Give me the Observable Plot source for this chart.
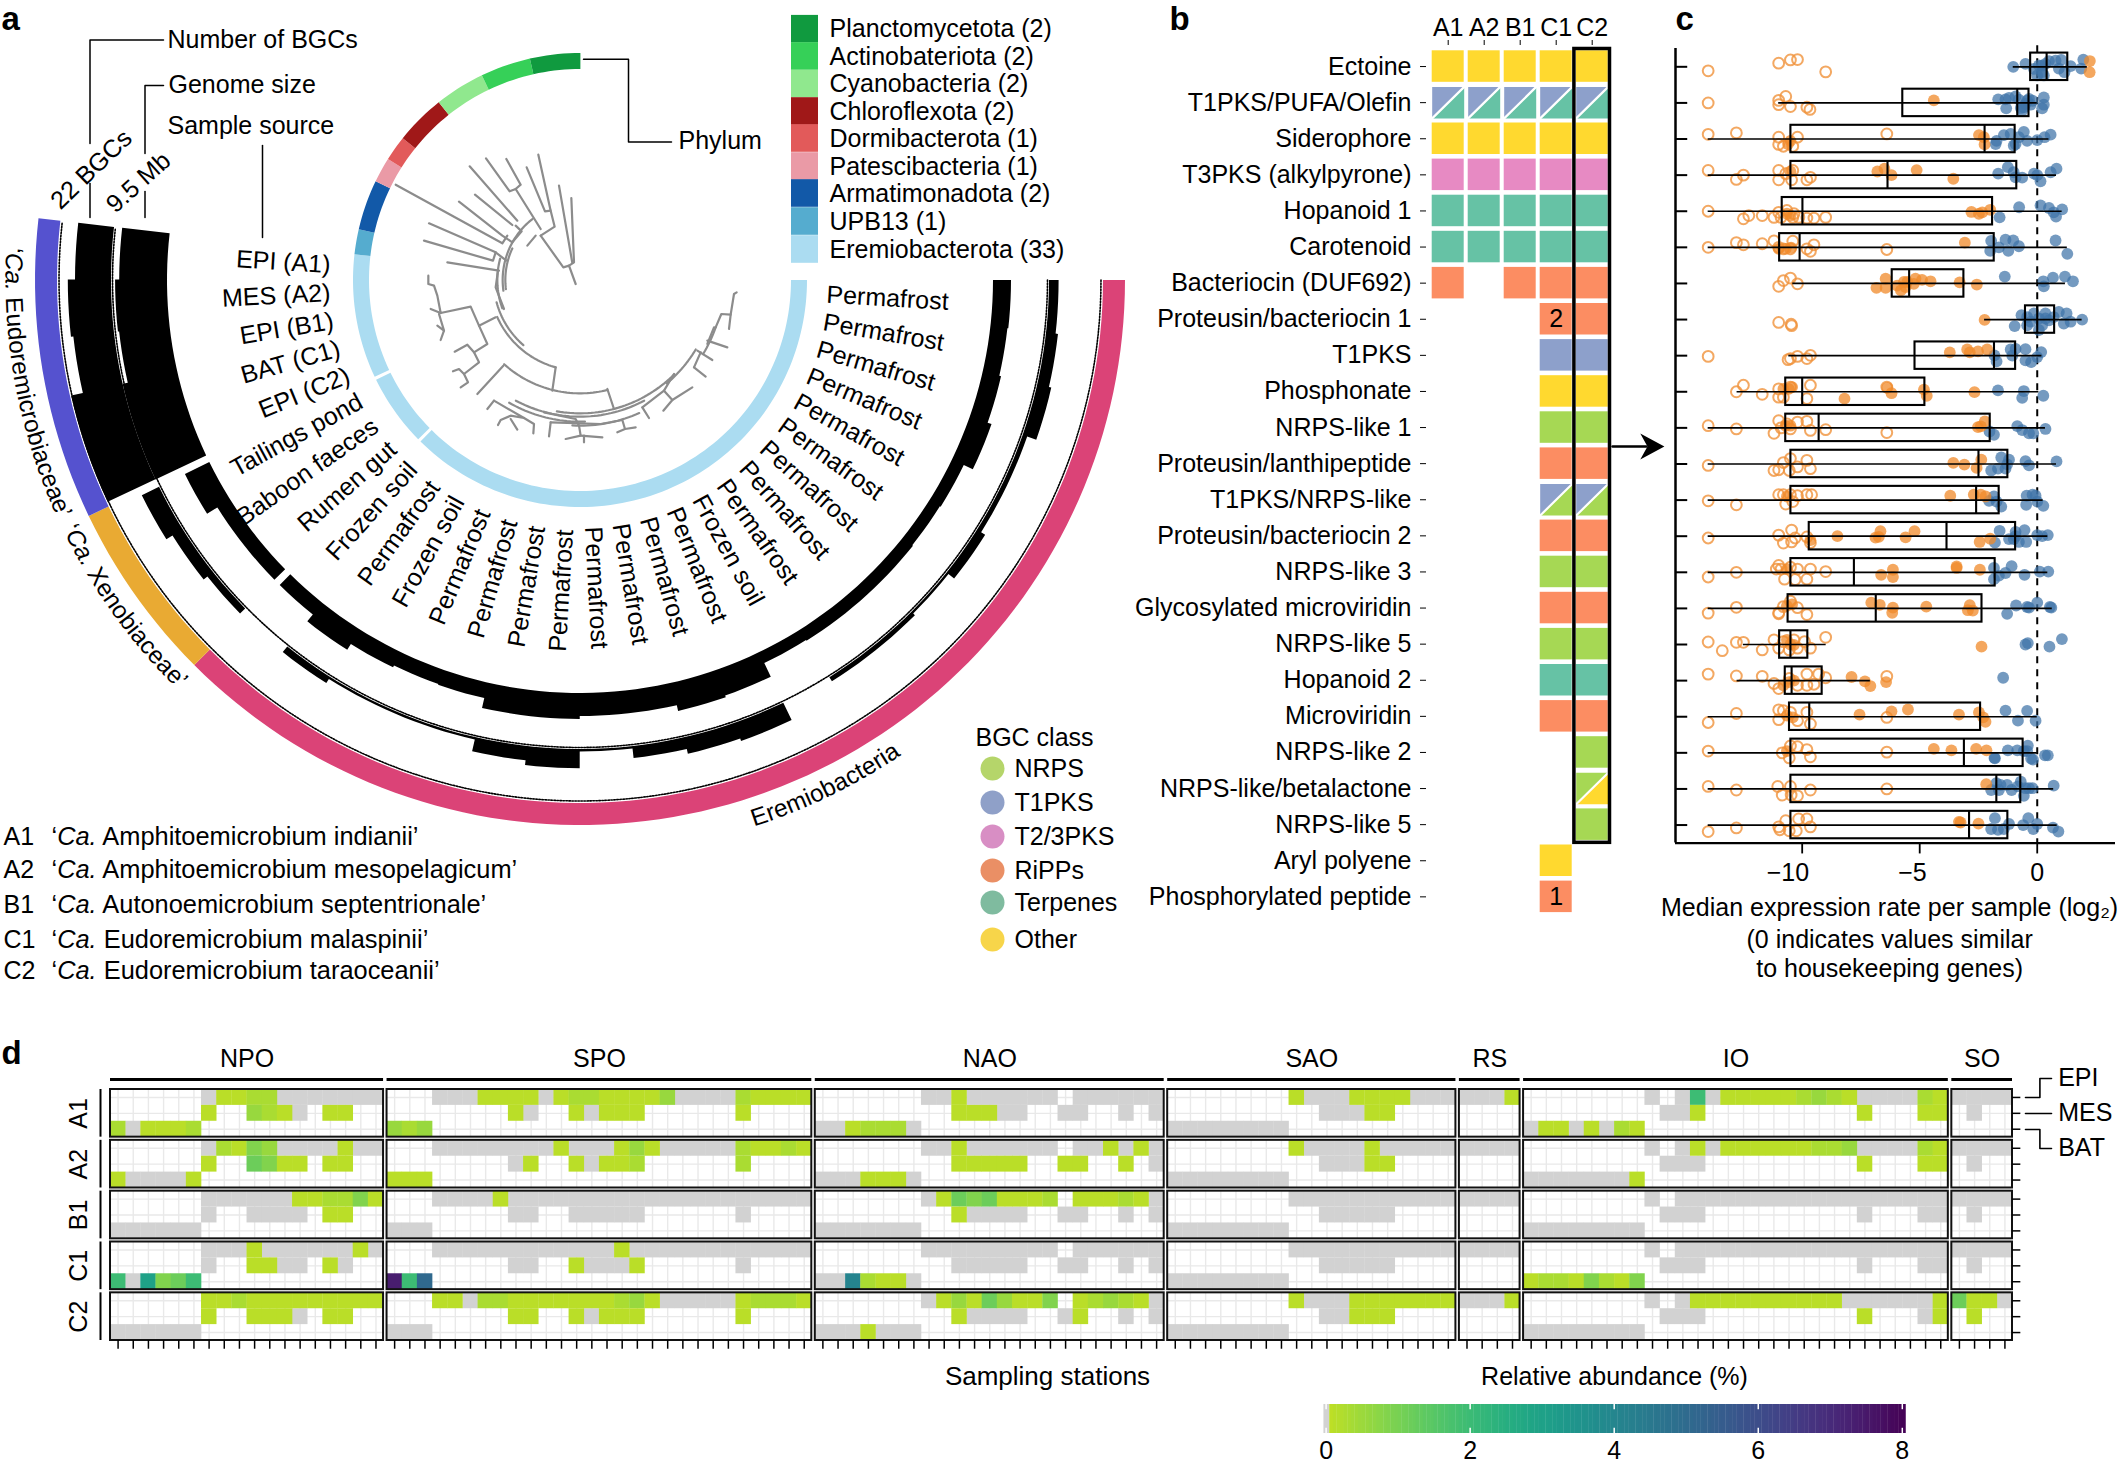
<!DOCTYPE html>
<html><head><meta charset="utf-8">
<script src="https://cdn.jsdelivr.net/npm/d3@7"></script>
<script src="https://cdn.jsdelivr.net/npm/@observablehq/plot@0.6"></script>
<style>html,body{margin:0;background:#fff}#page{position:relative;width:2118px;height:1465px;overflow:hidden}
#page svg{position:absolute;max-width:none;overflow:visible}</style></head><body><div id="page"></div>
<script>
const FONT='"Liberation Sans",Arial,sans-serif';
// ---------- panel a data ----------
const sampleSources=["Permafrost","Permafrost","Permafrost","Permafrost","Permafrost","Permafrost","Permafrost","Permafrost","Permafrost","Frozen soil","Permafrost","Permafrost","Permafrost","Permafrost","Permafrost","Permafrost","Permafrost","Permafrost","Frozen soil","Permafrost","Frozen soil","Rumen gut","Baboon faeces","Tailings pond","EPI (C2)","BAT (C1)","EPI (B1)","MES (A2)","EPI (A1)"];
const genomeSizeMb=[3.05,2.9,3.2,3.9,2.2,2.05,2.2,2.2,2.2,2.05,4.6,4.9,3.9,3.9,4.4,4.4,2.7,2.55,2.9,4.05,2.55,2.55,2.55,4.6,9.5,9.5,8.6,8.8,8.1];
const bgcCounts=[4,5,6,2,2,4,1,2,2,0,8,7,5,1,8,6,1,1,1,3,0,3,5,8,22,22,17,18,15];
const phylumNames=["Planctomycetota (2)","Actinobateriota (2)","Cyanobacteria (2)","Chloroflexota (2)","Dormibacterota (1)","Patescibacteria (1)","Armatimonadota (2)","UPB13 (1)","Eremiobacterota (33)"];
const phylumColors=["#109a3f","#36d058","#90e88e","#a01818","#e25a5a","#ea9aa6","#1259a8","#55accf","#abdcf1"];
const phylumLeaves=[2,2,2,2,1,1,2,1];
const eremioGroups=[21,3,5];
const familyLeaves=[21,3,5];
const familyColors=["#db4377","#e9aa33","#5552cf"];
const bgcClassNames=["NRPS","T1PKS","T2/3PKS","RiPPs","Terpenes","Other"];
const bgcClassColors=["#b5d56a","#8fa0c8","#d88ec4","#ea8f65","#7fbb9f","#f7d54a"];
const speciesIds=["A1","A2","B1","C1","C2"];
const speciesNames=["‘Ca. Amphitoemicrobium indianii’","‘Ca. Amphitoemicrobium mesopelagicum’","‘Ca. Autonoemicrobium septentrionale’","‘Ca. Eudoremicrobium malaspinii’","‘Ca. Eudoremicrobium taraoceanii’"];
// tree: arcs [radius, angle from, angle to], branches as polylines in tree units
const treeArcs=[[232,172,232],[224,173,205],[248,160,195],[272,105.6,156],[259,131,165],[340,76,132],[400,45,100],[405,31,50],[431,19,31],[410,62,118],[425,88,120],[437,66,93]];
const treeBranches=[
[[645,670],[625,615],[608,620],[540,525]],[[625,615],[640,605],[632,412]],[[635,607],[595,375]],
[[540,525],[582,498],[570,450],[533,282]],[[570,450],[553,452],[498,320]],[[540,505],[465,385],[480,372],[437,295]],
[[465,385],[447,392],[376,293]],[[500,555],[525,525]],[[470,480],[327,317]],[[455,493],[343,402]],
[[465,495],[483,512],[455,545],[425,525],[295,423]],[[440,525],[425,548],[105,372]],[[437,600],[405,575],[205,488]],
[[405,575],[397,600],[190,540]],[[415,630],[260,605]],[[412,630],[405,680],[430,745]],
[[405,770],[355,795],[330,738],[240,757],[230,705],[220,675],[203,670],[203,645]],[[240,757],[210,745]],
[[235,760],[250,810],[230,795]],[[250,810],[240,838]],[[355,795],[380,850],[340,875],[320,852],[282,873]],
[[340,875],[355,905],[310,940],[295,925],[277,932]],[[310,940],[322,965],[300,980]],
[[585,920],[575,990]],[[428,915],[350,1000]],[[740,985],[760,1045]],
[[400,1020],[380,1045]],[[400,1020],[490,1072],[450,1065],[420,1078],[412,1093]],[[450,1075],[470,1107]],[[490,1072],[520,1090],[518,1118]],
[[550,1055],[645,1075],[655,1095]],[[570,1085],[565,1127]],[[570,1085],[720,1090]],[[655,1095],[660,1125],[615,1135]],[[660,1125],[725,1130]],[[670,1125],[670,1145]],
[[720,1090],[785,1078],[793,1105],[770,1115]],[[793,1105],[825,1100]],
[[845,1040],[865,1072]],[[845,1040],[910,990],[935,1018],[908,1050]],[[935,1018],[995,980]],[[910,990],[940,940]],
[[1010,870],[1055,898]],[[1000,920],[1035,948]],[[1000,920],[1020,875]],[[1040,840],[1100,860]],[[1060,800],[1040,850]],
[[1065,800],[1082,760],[1110,762],[1105,805]],[[1110,762],[1120,700],[1128,695]]];
// ---------- panel b data ----------
const bgcNames=["Ectoine","T1PKS/PUFA/Olefin","Siderophore","T3PKS (alkylpyrone)","Hopanoid 1","Carotenoid","Bacteriocin (DUF692)","Proteusin/bacteriocin 1","T1PKS","Phosphonate","NRPS-like 1","Proteusin/lanthipeptide","T1PKS/NRPS-like","Proteusin/bacteriocin 2","NRPS-like 3","Glycosylated microviridin","NRPS-like 5","Hopanoid 2","Microviridin","NRPS-like 2","NRPS-like/betalactone","NRPS-like 5","Aryl polyene","Phosphorylated peptide"];
const genomeCols=["A1","A2","B1","C1","C2"];
const bgcClassOfRow=["O","T/E","O","P","E","E","R","R","T","O","N","R","T/N","R","N","R","N","E","R","N","N/O","N","O","R"];
const bgcPresence=["11111","11111","11111","11111","11111","11111","10111","00011","00011","00011","00011","00011","00011","00011","00011","00011","00011","00011","00011","00001","00001","00001","00010","00010"];
const classFill={O:"#FFD92F",T:"#8DA0CB",E:"#66C2A5",P:"#E78AC3",R:"#FC8D62",N:"#A6D854"};
const bgcCellCounts=[[7,3,"2"],[23,3,"1"]];
// ---------- panel c data: [whisker low, q1, median, q3, whisker high] ----------
const boxStats=[[-1.02,-.28,.4,1.3,2.13],[-11,-5.72,-.85,-.35,0],[-14,-10.48,-2.24,-.94,.5],[-14,-10.48,-6.37,-.87,.82],[-14,-10.85,-9.99,-1.9,1.06],[-14,-10.96,-10.11,-1.83,1.28],[-10.4,-6.17,-5.45,-3.12,1.2],[-2.24,-.5,0,.74,1.91],[-10.57,-5.2,-1.84,-.92,.2],[-12.77,-10.7,-10,-4.78,.07],[-14,-10.7,-9.3,-2,.35],[-14,-10.48,-2.5,-1.25,.82],[-14,-10.48,-2.6,-1.62,.25],[-14,-9.7,-3.86,-.92,.45],[-14,-10.48,-7.8,-1.79,.45],[-14,-10.6,-6.87,-2.35,.64],[-12.5,-10.96,-10.5,-9.76,-8.98],[-12.77,-10.72,-10.45,-9.15,-7.1],[-14,-10.54,-9.7,-2.41,0],[-14,-10.48,-3.12,-.6,0],[-14,-10.48,-1.74,-.7,.7],[-14,-10.48,-2.9,-1.25,.85]];
// [value, jitter in rows], one list per row
const openDots=[
[[-14,.11],[-11,-.1],[-10.5,-.19],[-10.2,-.2],[-9,.14]],
[[-14,0],[-11,-.07],[-11,.05],[-10.7,-.18],[-10.5,.1],[-9.8,.12],[-9.67,.18]],
[[-14,-.13],[-12.8,-.17],[-11,-.05],[-11,.15],[-10.8,.2],[-10.2,-.05],[-10.4,.2],[-6.4,-.14]],
[[-14,-.13],[-12.8,.12],[-12.5,0],[-11,-.13],[-11,.13],[-10.7,-.04],[-10.4,-.13],[-10.45,.13],[-9.8,.13],[-9.65,.06]],
[[-14,0],[-12.5,.21],[-12.27,.12],[-11.7,.12],[-11.2,.17],[-11,.03],[-10.65,-.02],[-10.4,.17],[-10.14,.17],[-9.8,.19],[-9.5,.19],[-9,.17],[-10.9,.17],[-10.35,.07]],
[[-14,0],[-12.8,-.13],[-12.5,-.07],[-11.7,-.1],[-11.2,-.18],[-11,0],[-10.4,-.17],[-10.5,.04],[-9.8,.04],[-9.65,.11],[-9.5,-.07],[-6.4,.06],[-10.8,.04]],
[[-11,.08],[-10.8,-.08],[-10.5,-.15],[-10.2,.01]],
[[-11,.08],[-10.47,.13],[-10.45,.17]],
[[-14,.02],[-10.6,.11],[-10.5,.08],[-10.2,.02],[-9.8,.08],[-9.65,-.01]],
[[-12.8,0],[-12.5,-.18],[-11.7,.07],[-11,-.08],[-11,.15],[-10.8,.15],[-10.5,-.13],[-9.8,.19],[-9.65,-.18],[-6.4,-.13]],
[[-14,-.06],[-12.8,.03],[-11.2,.15],[-11,-.2],[-10.9,0],[-10.65,-.11],[-10.5,.03],[-10.2,-.16],[-9.8,-.18],[-9.65,.07],[-9,.05],[-6.4,.13]],
[[-14,.04],[-11.2,.18],[-11,.16],[-10.8,-.04],[-10.5,-.15],[-10.55,.18],[-10.2,.08],[-9.8,-.1],[-9.65,.13]],
[[-14,.02],[-12.8,.13],[-11,-.15],[-10.7,.11],[-10.8,-.15],[-10.5,-.15],[-10.2,-.12],[-9.8,-.15],[-9.6,-.15],[-10.4,.04]],
[[-14,.05],[-11,-.03],[-10.8,.19],[-10.45,-.17],[-10.45,.16],[-10.3,.05],[-9.8,.02],[-9.65,.18]],
[[-14,.13],[-12.8,0],[-11,-.19],[-11.1,-.09],[-10.9,-.09],[-10.5,-.14],[-10.2,-.09],[-10.75,.19],[-10.3,.2],[-9.8,.19],[-9.65,-.09],[-9,-.02]],
[[-14,.13],[-12.8,-.03],[-11,.15],[-10.8,-.05],[-10.5,-.2],[-10.2,-.02],[-9.8,.17],[-11,.12]],
[[-14,-.07],[-13.4,.17],[-12.8,-.06],[-12.5,-.06],[-11.7,.15],[-11.2,-.13],[-11,.1],[-10.8,-.08],[-10.55,.15],[-10.35,-.13],[-9.9,-.08],[-9.65,.1],[-9,-.2],[-10.2,.1]],
[[-14,-.18],[-12.8,-.13],[-11.7,-.12],[-11.2,.08],[-11,.22],[-10.55,-.06],[-10.2,.13],[-9.8,-.18],[-9.5,.1],[-9.3,-.18],[-9,-.08],[-6.4,-.12],[-9.8,.13]],
[[-14,.16],[-12.8,-.09],[-11,-.19],[-11,.08],[-10.8,-.17],[-10.5,-.12],[-10.2,.11],[-9.8,-.12],[-9.65,.2],[-6.4,.02]],
[[-14,-.05],[-10.85,0],[-10.5,-.19],[-10.2,-.17],[-10.55,.14],[-9.8,-.09],[-9.65,.11],[-6.4,-.02]],
[[-14,-.07],[-12.8,.03],[-11.04,-.07],[-10.85,.17],[-10.5,-.07],[-10.47,.17],[-10.2,.19],[-9.65,.03],[-6.4,0]],
[[-14,.18],[-12.8,.08],[-11,.05],[-10.95,.13],[-10.7,-.12],[-10.55,.16],[-10.25,.16],[-10.15,-.17],[-9.8,-.17],[-9.65,.05]]];
const orangeDots=[
[[2.24,-.16],[2.23,.15]],
[[-4.4,-.07]],
[[-10.5,.05],[-10.6,.14],[-2.48,-.11],[-2.27,-.05],[-2.24,.15]],
[[-10.5,-.1],[-6.8,-.1],[-6.5,-.18],[-6.2,0],[-5.13,-.14],[-3.57,.1]],
[[-10.65,.07],[-10.5,.12],[-2.8,.02],[-2.48,.07],[-2.34,.03],[-2,-.04]],
[[-11,.04],[-10.7,.04],[-10.47,.01],[-3.08,-.13]],
[[-6.84,.12],[-6.45,-.13],[-6.45,.12],[-5.8,.19],[-5.96,.06],[-5.67,-.04],[-5.6,.1],[-5.53,-.04],[-5.25,.01],[-5.18,-.13],[-4.9,-.1],[-4.54,-.06],[-3.3,-.03],[-2.57,.03]],
[[-2.24,.01]],
[[-3.72,-.09],[-2.98,-.17],[-2.87,-.09],[-2.52,-.12],[-2.13,-.17]],
[[-10.8,-.08],[-10.57,-.08],[-10.43,-.13],[-8.2,.19],[-6.38,-.11],[-6.2,.04],[-4.82,-.06],[-4.7,.11],[-2.67,.01]],
[[-10.7,-.06],[-10.5,-.06],[-2.52,-.02],[-2.23,-.18],[-2.4,-.04]],
[[-3.57,-.03],[-3.1,.02],[-2.58,.11],[-2.38,-.12]],
[[-10.65,-.1],[-3.7,-.12],[-2.7,-.15],[-2.4,-.15],[-2.2,-.1]],
[[-9.65,.11],[-8.5,0],[-6.88,.04],[-6.67,-.14],[-5.6,.03],[-5.22,-.14],[-2.45,.16],[-2,.07],[-6.74,.02]],
[[-6.64,.07],[-6.14,-.07],[-6.14,.13],[-3.43,-.16],[-3.43,-.12],[-2.44,-.07],[-10.65,-.09]],
[[-10.65,-.07],[-10.43,-.11],[-7.06,-.16],[-6.7,-.1],[-6.14,-.02],[-6.17,.12],[-4.72,-.05],[-2.87,-.09],[-2.95,.05],[-2.74,.06]],
[[-10.65,-.13],[-10.5,0],[-10.35,.01],[-2.37,.06]],
[[-10.8,.13],[-10.57,.04],[-10.35,0],[-7.9,-.1],[-7.33,.02],[-7.1,.15],[-6.43,.04]],
[[-10.65,-.03],[-10.4,.02],[-7.56,-.06],[-6.2,-.15],[-5.5,-.2],[-3.33,-.06],[-2.48,-.12],[-2.3,.02],[-2.2,.14]],
[[-10.65,-.05],[-4.4,-.11],[-3.65,-.07],[-2.6,-.11],[-2.16,-.07]],
[[-2.17,-.13]],
[[-3.33,-.09],[-3.26,-.07],[-2.5,-.04]]];
const blueDots=[
[[-1.02,0],[-.5,-.08],[-.14,.06],[.07,-.04],[.2,.15],[0,.24],[.35,-.08],[.5,-.16],[.78,-.17],[1.02,-.19],[.92,.05],[1.16,.15],[1.42,-.02],[1.96,-.2],[1.87,.05],[.2,-.03],[.28,.24]],
[[-1.66,-.1],[-1.35,-.1],[-1.2,-.14],[-1.32,.15],[-.92,-.18],[-.78,-.09],[-.64,.21],[-.43,-.06],[-.57,.12],[-.35,-.11],[-.28,.05],[-.5,.03],[.28,-.15],[.21,.15],[.28,.05],[-.2,-.06],[-.7,.14]],
[[-1.77,.14],[-1.73,.05],[-1.42,-.11],[-1.13,-.14],[-.92,.14],[-1,.18],[-.78,-.05],[-.57,-.2],[-.43,.05],[0,.03],[.31,-.05],[.57,-.12]],
[[-1.66,-.04],[-1.25,-.22],[-1,-.08],[-.92,.06],[-.64,.07],[-.14,-.04],[0,0],[.14,.17],[.57,-.08],[.82,-.18]],
[[-1.6,.17],[-.77,-.11],[.14,-.16],[.5,-.09],[.7,.03],[.8,.15],[1.06,-.05]],
[[-1.96,-.18],[-2,.1],[-1.63,0],[-1.35,-.21],[-1.23,.1],[-1.02,-.19],[-.78,-.03],[.78,-.19],[1.28,.18]],
[[-1.38,-.19],[.26,-.06],[.28,.08],[.67,-.16],[1.18,-.19],[1.52,-.06]],
[[-.96,.18],[-.67,-.12],[-.43,-.07],[-.28,.06],[-.14,-.17],[.07,-.03],[.21,.16],[.35,-.17],[.5,.02],[.7,-.07],[.92,-.21],[1.13,.11],[1.25,-.17],[1.42,.06],[1.91,0],[-.43,.16],[.07,.29],[.35,-.03]],
[[-1.82,-.01],[-1.73,.16],[-1.13,-.17],[-1.06,0],[-.92,-.19],[-.5,-.18],[-.5,.13],[-.26,.18],[0,.04],[.17,-.1]],
[[-1.67,-.04],[-.57,-.02],[-.64,.17],[.26,.11]],
[[-2.03,.1],[-1.84,.19],[-.85,-.05],[-.64,.06],[-.35,.15],[-.17,.15],[.35,.03]],
[[-1.96,.18],[-1.67,.13],[-1.53,-.18],[-1.35,.13],[-1.2,-.12],[-1.28,.01],[-.5,-.08],[-.35,.04],[.82,-.07]],
[[-2.05,.02],[-1.84,-.1],[-1.73,.04],[-1.53,.18],[-.45,-.12],[-.2,-.15],[-.07,-.12],[-.47,.13],[0,.04],[.26,.16]],
[[-1.8,.18],[-1.6,-.15],[-1.2,.08],[-1,.08],[-.92,-.12],[-.78,.16],[-.54,-.17],[-.47,.16],[0,-.03],[.21,0],[.45,-.03],[-.92,0]],
[[-1.84,-.12],[-1.84,.19],[-1.63,.09],[-1.35,.02],[-1.09,-.17],[-.54,.07],[.11,-.02],[.47,-.02]],
[[-1.28,.15],[-.9,-.08],[-.43,-.04],[-.35,-.02],[0,-.16],[.54,-.04],[.6,-.02]],
[[-.5,0],[-.4,-.04],[.52,.06],[1.05,-.15]],
[[-1.45,-.08]],
[[-1.35,-.17],[-.82,.11],[-.43,-.16],[-.07,.11]],
[[-1.82,.14],[-1.8,.15],[-1.25,-.07],[-.85,-.07],[-.57,-.05],[-.4,-.2],[-.43,-.05],[-.26,.16],[.33,.07],[.45,.07],[-.18,.19]],
[[-1.96,.03],[-1.74,-.16],[-1.56,-.11],[-1.63,.03],[-1.28,-.11],[-1.09,.03],[-.82,-.07],[-.7,-.2],[-.5,-.02],[-.57,.19],[-.35,-.02],[-.2,-.02],[.7,-.09]],
[[-1.96,.11],[-1.8,-.19],[-1.67,.13],[-1.42,.11],[-1.2,-.03],[-.6,0],[-.38,-.19],[-.17,.11],[0,-.03],[.67,.07],[.9,.18]]];
// ---------- panel d data ----------
const basinNames=["NPO","SPO","NAO","SAO","RS","IO","SO"];
const basinCols=[18,28,23,19,4,28,4];
const depthNames=["EPI","MES","BAT"];
// '.' no sample, '#' sampled but absent, digits = abundance level
const abundanceLevels={"0":.03,"1":.25,"2":.5,"3":.8,"4":1.1,"5":1.9,"6":2.9,"7":4,"8":5,"9":7.3};
const heatA1=[["......#0011#######","......0..210#.00..","1#0001............"],["...###0000#01100002####10000","........0#..0#000......0....","212........................."],[".......##0######.######",".........000##..##..#.#","##0111#................"],["........0###0000###","..........###00....","########..........."],["###0","....","...."],["........#.#5#000001210####10",".........##0..........0...00","#00#0#10...................."],["####",".#..","...."]];
const heatA2=[["......#1032####0##","......0..4300.00..","0####0............"],["...########0###020#####10010","........#0..0#001......1....","000........................."],[".......##0######.##0#0#",".........00000..00..0.#","###000#................"],["........0####0#####","..........###00....","########..........."],["####","....","...."],["........#.#0#000000112####10",".........###..........0...00","#######0...................."],["####",".#..","...."]];
const heatB1=[["......######001130","......#..####.00..","######............"],["...####0####################","........##..#####......#....","###........................."],[".......#04340001.00010#",".........0####..##..#.#","#######................"],["........###########","..........#####....","########..........."],["####","....","...."],["........#.##################",".........###..........#...##","########...................."],["####",".#..","...."]];
const heatC1=[["......###0######0#","......#..00##.0#..","5#6345............"],["...############0############","........##..0###0......#....","958........................."],[".......#########.######",".........#####..##..#.#","##7100#................"],["........###########","..........#####....","########..........."],["####","....","...."],["........#.##################",".........###..........#...##","01103103...................."],["####",".#..","...."]];
const heatC2=[["......001000000000","......0..000#.00..","######............"],["...00#110000000120#####01110","........00..0#000......0....","###........................."],[".......#02042003.01210#",".........0####..#0..#.#","###0###................"],["........0###0000000","..........##000....","########..........."],["###0","....","...."],["........#.#0000000000######0",".........###..........0...#0","########...................."],["400#",".0..","...."]];
const legendTicks=[0,2,4,6,8];

// ---------- helpers ----------
const page=document.getElementById("page");
function place(svg,left,top){svg.style.left=left+"px";svg.style.top=top+"px";page.appendChild(svg);return svg}
function pixelPlot(w,h,marks){return Plot.plot({width:w,height:h,margin:0,style:{background:"transparent",fontFamily:FONT,fontSize:"25px",color:"#000"},
 x:{domain:[0,w],range:[0,w],axis:null},y:{domain:[0,h],range:[0,h],axis:null},marks})}
function italicCa(svg){d3.select(svg).selectAll("text").each(function(){const t=this.textContent;if(!t.includes("Ca."))return;
 const [a,b]=t.split("Ca.");this.textContent="";const s=d3.select(this);s.append("tspan").text(a);s.append("tspan").attr("font-style","italic").text("Ca.");s.append("tspan").text(b)})}
const T={fill:"#000",lineAnchor:"middle",fontSize:25,stroke:"none"};

// ---------- panel a ----------
const CX=579.5,CY=279.5,LEAF=186.5/29,rad=d=>d*Math.PI/180;
const pol=(a,r)=>({x:CX+r*Math.cos(rad(a)),y:CY+r*Math.sin(rad(a))});
const arcPts=(a0,a1,r)=>d3.range(0,1.0001,1/Math.max(2,Math.ceil(Math.abs(a1-a0)/1.5))).map(t=>pol(a0+(a1-a0)*t,r));
const band=(a0,a1,r0,r1,id)=>[...arcPts(a0,a1,r0),...arcPts(a1,a0,r1)].map(p=>({...p,id}));
const groupStart=new Set([21,24]);
// contiguous wedges form one stepped outline, so no seams appear between them
function steppedBars(values,r0,unit,name){const out=[];let run=[];
 const flush=()=>{if(!run.length)return;const id=name+run[0];
  const a0=i=>i*LEAF+(groupStart.has(i)?.5:0),a1=i=>(i+1)*LEAF-(groupStart.has(i+1)?.5:0);
  const pts=run.flatMap(i=>arcPts(a0(i),a1(i),r0+values[i]*unit));
  pts.push(...arcPts(a1(run[run.length-1]),a0(run[0]),r0));
  out.push(...pts.map(p=>({...p,id})));run=[]};
 values.forEach((v,i)=>{if(groupStart.has(i)||!v)flush();if(v)run.push(i)});flush();return out}
const genomeBand=steppedBars(genomeSizeMb,413,5.9,"g");
const bgcBand=steppedBars(bgcCounts,469,2.4,"b");
// phylum ring
let ringMarks=[];let acc=0;
eremioGroups.forEach((n,i)=>{ringMarks.push(Plot.line(band(acc*LEAF+(i?.4:0),(acc+n)*LEAF-(i<2?.4:0),211,227,i),{x:"x",y:"y",fill:phylumColors[8],stroke:"none"}));acc+=n});
phylumLeaves.slice().reverse().forEach((n,i)=>{ringMarks.push(Plot.line(band(acc*LEAF,(acc+n)*LEAF,211,227,i),{x:"x",y:"y",fill:phylumColors[7-i],stroke:"none"}));acc+=n});
acc=0;familyLeaves.forEach((n,i)=>{ringMarks.push(Plot.line(band(acc*LEAF,(acc+n)*LEAF,523,545,i),{x:"x",y:"y",fill:familyColors[i],stroke:"none"}));acc+=n});
// tree
const treeOrigin=658,treeUnit=3;
const treeLines=[...treeArcs.map(([R,a0,a1],i)=>arcPts(a0,a1,R/treeUnit).map(p=>({...p,id:"a"+i}))),
 ...treeBranches.map((b,i)=>b.map(([x,y])=>({x:CX+(x-treeOrigin)/treeUnit,y:CY+(y-treeOrigin)/treeUnit,id:"b"+i})))].flat();
const labelA=i=>3.4+i*6.43;
const labelData=sampleSources.map((s,i)=>({s,a:labelA(i)}));
const rightLab=labelData.filter(d=>d.a<90).map(d=>({...d,...pol(d.a,247),rot:d.a}));
const leftLab=labelData.filter(d=>d.a>=90).map(d=>({...d,...pol(d.a,250),rot:d.a-180}));
const leaders=[[[89.5,143],[89.5,39.5],[163,39.5]],[[89.5,183],[89.5,217]],[[144.5,153],[144.5,85],[163,85]],[[144.5,191],[144.5,217]],[[262,145],[262,237]],[[583,58.7],[628,58.7],[628,141.6],[671,141.6]]].flatMap((l,i)=>l.map(([x,y])=>({x,y,id:i})));
const phyLegendY=[28.7,56,83.5,111,138,166,193,221,249];
const clsY=[768,802,836,870,902,939];
const speciesY=[836,869,904,939,970];
const aText=[{t:"Number of BGCs",x:167,y:39},{t:"Genome size",x:168,y:84},{t:"Sample source",x:167,y:125},{t:"Phylum",x:678,y:140},{t:"BGC class",x:975,y:737}];
const svgA=pixelPlot(1130,1000,[
 Plot.line(treeLines,{x:"x",y:"y",z:"id",stroke:"#8c8c8c",strokeWidth:2.2}),
 ...ringMarks,
 Plot.line(arcPts(0,186.4,467.5),{x:"x",y:"y",stroke:"#000",strokeWidth:1.6,strokeDasharray:"1.5,1.5"}),
 Plot.line(arcPts(0,186.4,521),{x:"x",y:"y",stroke:"#000",strokeWidth:1.6,strokeDasharray:"1.5,1.5"}),
 Plot.line(genomeBand,{x:"x",y:"y",z:"id",fill:"#000",stroke:"none"}),
 Plot.line(bgcBand,{x:"x",y:"y",z:"id",fill:"#000",stroke:"none"}),
 Plot.text(rightLab,{x:"x",y:"y",text:"s",rotate:"rot",textAnchor:"start",...T}),
 Plot.text(leftLab,{x:"x",y:"y",text:"s",rotate:"rot",textAnchor:"end",...T}),
 Plot.line(leaders,{x:"x",y:"y",z:"id",stroke:"#000",strokeWidth:1.5}),
 Plot.text(aText,{x:"x",y:"y",text:"t",textAnchor:"start",...T}),
 Plot.text([{t:"22 BGCs",x:91,y:169}],{x:"x",y:"y",text:"t",rotate:-44,textAnchor:"middle",...T}),
 Plot.text([{t:"9.5 Mb",x:138,y:182}],{x:"x",y:"y",text:"t",rotate:-42,textAnchor:"middle",...T}),
 Plot.rect(phylumNames.map((n,i)=>i),{x1:791,x2:818,y1:i=>phyLegendY[i]-13.8,y2:i=>phyLegendY[i]+13.8,fill:i=>phylumColors[i]}),
 Plot.text(phylumNames,{x:829,y:(d,i)=>phyLegendY[i],textAnchor:"start",...T}),
 Plot.dot(bgcClassNames,{x:992,y:(d,i)=>clsY[i],r:12,fill:(d,i)=>bgcClassColors[i]}),
 Plot.text(bgcClassNames,{x:1014,y:(d,i)=>clsY[i],textAnchor:"start",...T}),
 Plot.text(speciesIds,{x:3,y:(d,i)=>speciesY[i],textAnchor:"start",...T}),
 Plot.text(speciesNames,{x:51,y:(d,i)=>speciesY[i],textAnchor:"start",...T,fontSize:25.4}),
 Plot.text(["a"],{x:1,y:19,textAnchor:"start",...T,fontWeight:"bold",fontSize:33})
]);
italicCa(svgA);
// curved family labels
{const s=d3.select(svgA),g=s.append("g").attr("font-size",24.4).attr("fill","#000");
 [{id:"eudo",a0:183.2,a1:150,pre:"‘",it:"Ca.",post:" Eudoremicrobiaceae’"},{id:"xeno",a0:154.2,a1:125,pre:"‘",it:"Ca.",post:" Xenobiaceae’"},{id:"erem",a0:72.3,a1:45,pre:"",it:"",post:"Eremiobacteria"}].forEach(d=>{
  const p0=pol(d.a0,574),p1=pol(d.a1,574);
  g.append("path").attr("id",d.id).attr("fill","none").attr("d",`M${p0.x},${p0.y}A574,574 0 0 0 ${p1.x},${p1.y}`);
  const t=g.append("text").attr("text-anchor","start").append("textPath").attr("href","#"+d.id);
  if(d.pre)t.append("tspan").text(d.pre);if(d.it)t.append("tspan").attr("font-style","italic").text(d.it);t.append("tspan").text(d.post);
 })}
place(svgA,0,0);

// ---------- panel b ----------
const CW=32/36,CH=31.5/36.1;
const bCells=[],bTris=[],bDiag=[];
bgcClassOfRow.forEach((c,r)=>{[...bgcPresence[r]].forEach((on,k)=>{if(on!=="1")return;
 if(c.includes("/")){const [u,l]=c.split("/");const id=r+"-"+k;
  bTris.push({f:classFill[u],pts:[[k,r],[k+CW,r],[k,r+CH]],id:id+"u"});
  bTris.push({f:classFill[l],pts:[[k+CW,r],[k+CW,r+CH],[k,r+CH]],id:id+"l"});
  bDiag.push({x:k,y:r+CH,id},{x:k+CW,y:r,id});
 } else bCells.push({r,k,f:classFill[c]});
})});
const svgB=Plot.plot({width:540,height:960,marginLeft:296,marginTop:44,marginRight:0,marginBottom:0,style:{background:"transparent",fontFamily:FONT,fontSize:"25px",color:"#000"},
 x:{domain:[0,5],range:[301.7,481.7],axis:null},y:{domain:[0,24],range:[50.3,916.7],axis:null},color:{type:"identity"},
 marks:[
 Plot.rect(bCells,{x1:"k",x2:d=>d.k+CW,y1:"r",y2:d=>d.r+CH,fill:"f"}),
 ...bTris.map(t=>Plot.line(t.pts,{x:"0",y:"1",fill:t.f,stroke:"none"})),
 Plot.line(bDiag,{x:"x",y:"y",z:"id",stroke:"#fff",strokeWidth:2.2}),
 Plot.rect([0],{x1:3.95,x2:4+CW+.05,y1:-.05,y2:21.94,fill:"none",stroke:"#000",strokeWidth:3.5}),
 Plot.text(bgcCellCounts,{x:d=>d[1]+CW/2,y:d=>d[0]+CH/2,text:d=>d[2],fontSize:25,fill:"#000",stroke:"none",lineAnchor:"middle"}),
 Plot.axisY(d3.range(24).map(i=>i+CH/2),{anchor:"left",tickFormat:v=>bgcNames[Math.floor(v)],tickSize:6,tickPadding:9,fontSize:25,label:null,stroke:"#000"}),
 Plot.axisX(d3.range(5).map(i=>i+CW/2),{anchor:"top",tickFormat:v=>genomeCols[Math.floor(v)],tickSize:5,tickPadding:4,fontSize:25,label:null,stroke:"#000"}),
 Plot.line([[5.01,10.96],[5.95,10.96]],{x:"0",y:"1",stroke:"#000",strokeWidth:2.5}),
 Plot.line([[6.45,10.96],[5.78,10.6],[5.98,10.96],[5.78,11.32]],{x:"0",y:"1",fill:"#000",stroke:"none"}),
 Plot.text(["b"],{x:-7.3,y:-.87,textAnchor:"start",fontWeight:"bold",fontSize:33,fill:"#000",stroke:"none",lineAnchor:"middle"})
]});
place(svgB,1130,0);

// ---------- panel c ----------
const flat=a=>a.flatMap((row,r)=>row.map(([v,j])=>({v,y:r+j})));
const cxMin=-15.39,rowsIdx=d3.range(22),xTicks=[-10,-5,0];
const svgC=Plot.plot({width:478,height:1000,marginLeft:35,marginRight:3,marginTop:48,marginBottom:157.4,style:{background:"transparent",fontFamily:FONT,fontSize:"25px",color:"#000"},
 x:{domain:[cxMin,3.33],range:[35,475],axis:null},y:{domain:[-.507,21.5],range:[48,842.6],axis:null},
 marks:[
 Plot.ruleX([0],{y1:-.58,y2:21.5,stroke:"#000",strokeWidth:2,strokeDasharray:"7,6"}),
 Plot.dot(flat(openDots),{x:"v",y:"y",r:5.4,stroke:"#f0923b",strokeWidth:2,strokeOpacity:.8,fill:"none"}),
 Plot.dot(flat(blueDots),{x:"v",y:"y",r:5.9,fill:"#3f73a8",fillOpacity:.72,stroke:"none"}),
 Plot.dot(flat(orangeDots),{x:"v",y:"y",r:5.9,fill:"#f0892a",fillOpacity:.75,stroke:"none"}),
 Plot.ruleY(rowsIdx,{x1:d=>boxStats[d][0],x2:d=>boxStats[d][4],stroke:"#000",strokeWidth:1.7}),
 Plot.rect(rowsIdx,{x1:d=>boxStats[d][1],x2:d=>boxStats[d][3],y1:d=>d-.38,y2:d=>d+.38,fill:"none",stroke:"#000",strokeWidth:2.1}),
 Plot.ruleX(rowsIdx,{x:d=>boxStats[d][2],y1:d=>d-.38,y2:d=>d+.38,stroke:"#000",strokeWidth:2.1}),
 Plot.ruleX([cxMin],{y1:-.507,y2:21.5,stroke:"#000",strokeWidth:2.5}),
 Plot.ruleY([21.5],{x1:cxMin,x2:3.33,stroke:"#000",strokeWidth:2.2}),
 Plot.ruleY(rowsIdx,{x1:cxMin,x2:cxMin+.52,stroke:"#000",strokeWidth:2}),
 Plot.ruleX(xTicks,{y1:21.5,y2:21.8,stroke:"#000",strokeWidth:1.8}),
 Plot.text(xTicks,{x:d=>d,y:22.32,text:d=>d<0?"−"+(-d):String(d),textAnchor:"end",dx:7,fontSize:25,fill:"#000",stroke:"none",lineAnchor:"middle"}),
 Plot.text(["Median expression rate per sample (log₂)","(0 indicates values similar","to housekeeping genes)"],{x:-6.28,y:(d,i)=>[23.3,24.18,25.0][i],fontSize:25,fill:"#000",stroke:"none",lineAnchor:"middle"}),
 Plot.text(["c"],{x:cxMin+.0,y:-1.31,textAnchor:"start",fontWeight:"bold",fontSize:33,fill:"#000",stroke:"none",lineAnchor:"middle"})
]});
place(svgC,1640,0);

// ---------- panel d ----------
const heatGenomes=[heatA1,heatA2,heatB1,heatC1,heatC2];
const GAP=.23,RSTEP=3.2;
const basinOff=[];{let o=0;basinCols.forEach(n=>{basinOff.push(o);o+=n+GAP})}
const gridV=[],gridH=[],cells=[],grays=[],frames=[],ticksB=[];
basinCols.forEach((n,b)=>{const o=basinOff[b];
 for(let c=0;c<n;c++)ticksB.push(o+c+.5);
 speciesIds.forEach((_,g)=>{const y0=g*RSTEP;frames.push({x1:o,x2:o+n,y1:y0,y2:y0+3});
  for(let c=0;c<n;c++)gridV.push({x:o+c+.5,y1:y0,y2:y0+3});
  for(let k=0;k<3;k++){gridH.push({y:y0+k+.5,x1:o,x2:o+n});
   [...heatGenomes[g][b][k]].forEach((ch,c)=>{if(ch===".")return;const r={x1:o+c,x2:o+c+1.02,y1:y0+k,y2:y0+k+1};
    if(ch==="#")grays.push(r);else cells.push({...r,v:abundanceLevels[ch]})})}
 })});
const totalX=basinOff[6]+4;
const DX=1902/totalX,DY=15.886,xd=p=>(p-110)/DX,yd=p=>(p-1089)/DY;
const viridisCut=t=>d3.interpolateViridis(.9-.9*t);
const depthTicks=speciesIds.flatMap((_,g)=>[0,1,2].map(k=>g*RSTEP+k+.5));
const connectors=[[[2025,1097],[2039.4,1097],[2039.4,1078],[2051,1078]],[[2025,1113],[2051,1113]],[[2025,1129],[2039.4,1129],[2039.4,1148],[2051,1148]]].flatMap((l,i)=>l.map(([x,y])=>({x:xd(x),y:yd(y),id:i})));
const svgD=Plot.plot({width:2118,height:425,margin:0,style:{background:"transparent",fontFamily:FONT,fontSize:"25px",color:"#000"},
 x:{domain:[0,totalX],range:[110,2012],axis:null},y:{domain:[0,15.8],range:[49,300],axis:null},
 color:{type:"linear",domain:[0,8],interpolate:viridisCut},
 marks:[
 Plot.ruleX(gridV,{x:"x",y1:"y1",y2:"y2",stroke:"#e9e9e9",strokeWidth:1.4}),
 Plot.ruleY(gridH,{y:"y",x1:"x1",x2:"x2",stroke:"#e9e9e9",strokeWidth:1.4}),
 Plot.rect(grays,{x1:"x1",x2:"x2",y1:"y1",y2:"y2",fill:"#d2d2d2"}),
 Plot.rect(cells,{x1:"x1",x2:"x2",y1:"y1",y2:"y2",fill:"v"}),
 Plot.rect(frames,{x1:"x1",x2:"x2",y1:"y1",y2:"y2",fill:"none",stroke:"#111",strokeWidth:2}),
 Plot.ruleX(ticksB,{y1:15.8,y2:16.35,stroke:"#000",strokeWidth:1.5}),
 Plot.ruleY(depthTicks,{x1:totalX,x2:totalX+.55,stroke:"#000",strokeWidth:1.5}),
 Plot.ruleY(basinNames.map((n,b)=>b),{y:yd(1079),x1:b=>basinOff[b],x2:b=>basinOff[b]+basinCols[b],stroke:"#000",strokeWidth:3}),
 Plot.text(basinNames,{x:(n,b)=>basinOff[b]+basinCols[b]/2,y:yd(1059),fontSize:25,fill:"#000",stroke:"none",lineAnchor:"middle"}),
 Plot.ruleX(speciesIds.map((s,g)=>g),{x:xd(100),y1:g=>g*RSTEP,y2:g=>g*RSTEP+3,stroke:"#000",strokeWidth:2}),
 Plot.text(speciesIds,{x:xd(78.5),y:(s,g)=>g*RSTEP+1.5,rotate:-90,fontSize:25,fill:"#000",stroke:"none",lineAnchor:"middle"}),
 Plot.line(connectors,{x:"x",y:"y",z:"id",stroke:"#000",strokeWidth:1.6}),
 Plot.text(depthNames,{x:xd(2057.7),y:(d,i)=>yd([1077,1112,1147][i]),textAnchor:"start",fontSize:25,fill:"#000",stroke:"none",lineAnchor:"middle"}),
 Plot.text(["Sampling stations"],{x:xd(1047),y:yd(1376),fontSize:26,fill:"#000",stroke:"none",lineAnchor:"middle"}),
 Plot.text(["Relative abundance (%)"],{x:xd(1614),y:yd(1376),fontSize:25,fill:"#000",stroke:"none",lineAnchor:"middle"}),
 Plot.text(["d"],{x:xd(1),y:yd(1053),textAnchor:"start",fontWeight:"bold",fontSize:33,fill:"#000",stroke:"none",lineAnchor:"middle"})
]});
place(svgD,0,1040);

// colour bar
const barSteps=d3.range(0,8,.05);
const svgL=Plot.plot({width:620,height:65,marginLeft:25.6,marginRight:18.2,marginTop:4,marginBottom:33,style:{background:"transparent",fontFamily:FONT,fontSize:"25px",color:"#000"},
 x:{domain:[0,8],range:[25.6,601.8],axis:null},y:{domain:[0,1],range:[4,33],axis:null},
 color:{type:"linear",domain:[0,8],interpolate:viridisCut},
 marks:[
 Plot.rect([0],{x1:-.03,x2:.05,y1:0,y2:1,fill:"#d2d2d2"}),
 Plot.rect(barSteps,{x1:d=>d+.05,x2:d=>d+.105,y1:0,y2:1,fill:d=>d}),
 Plot.ruleX(legendTicks,{y1:0,y2:.18,stroke:"#fff",strokeWidth:1.5}),
 Plot.ruleX(legendTicks,{y1:.82,y2:1,stroke:"#fff",strokeWidth:1.5}),
 Plot.axisX(legendTicks,{anchor:"bottom",tickSize:0,tickPadding:9,fontSize:25,label:null,tickFormat:d=>d,lineAnchor:"top"})
]});
place(svgL,1300,1400);
</script></body></html>
